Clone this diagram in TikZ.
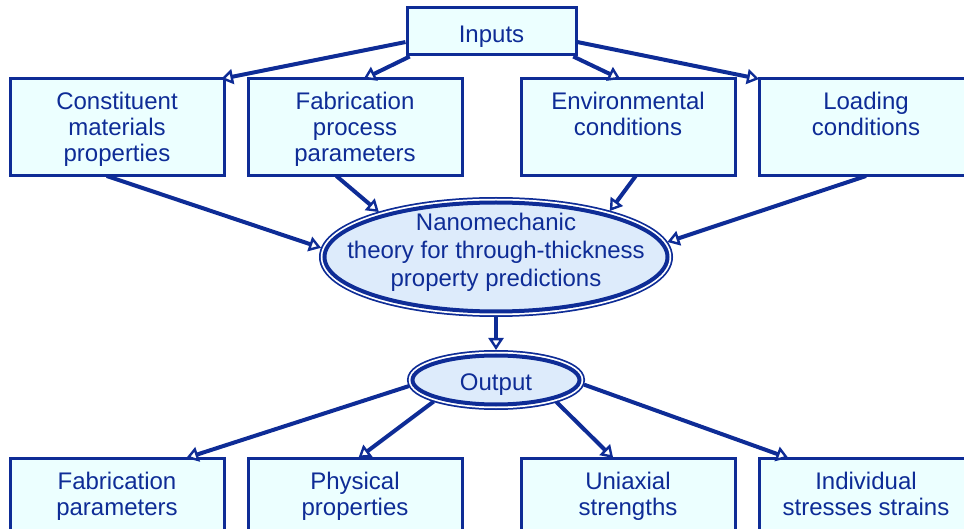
\documentclass[tikz,border=0pt]{standalone}
\usepackage{fontspec}
\setmainfont{Liberation Sans}
\usepackage{tikz}
\usetikzlibrary{positioning,arrows.meta,shapes.geometric}
\definecolor{navy}{RGB}{14,44,150}
\definecolor{boxfill}{RGB}{236,255,255}
\definecolor{ovalfill}{RGB}{221,235,251}
\newcommand{\boxtext}[1]{\parbox[t]{206pt}{\centering #1}}

\begin{document}
\begin{tikzpicture}[x=1pt,y=-1pt,font=\fontsize{24}{26}\selectfont,text=navy,
		box/.style={draw=navy,fill=boxfill,line width=3pt,minimum width=214pt,minimum height=97pt,inner sep=0pt,outer sep=0pt,text height=31pt,text depth=66pt},
		oval/.style={ellipse,draw=navy,fill=ovalfill,line width=4pt,inner sep=0pt,outer sep=5.5pt,preaction={draw=navy,line width=11pt},preaction={draw=white,line width=7.5pt}},
		link/.style={draw=navy,line width=4pt,-{Triangle[length=12pt,width=15pt,fill=white,line width=2.4pt]}}]
		\useasboundingbox (0,0) rectangle (964,529);
		
		\node[draw=navy,fill=boxfill,line width=3pt,minimum width=169pt,minimum height=47pt,text height=24pt,text depth=1pt] (inputs) at (491.5,31.5) {Inputs};
		
		\node[box] (cmp) at (117,127.5) {\boxtext{Constituent\\materials\\properties}};
		\node[box,right=24pt of cmp] (fpp) {\boxtext{Fabrication\\process\\parameters}};
		\node[box,right=59pt of fpp] (env) {\boxtext{Environmental\\conditions}};
		\node[box,right=24pt of env] (load) {\boxtext{Loading\\conditions}};
		
		\node[oval,minimum width=343pt,minimum height=109pt,label={[yshift=5pt,align=center,font=\fontsize{24}{28}\selectfont]center:{Nanomechanic\\theory for through-thickness\\property predictions}}] (theory) at (496,257) {};
		
		\node[oval,minimum width=167pt,minimum height=49pt,text height=20pt,text depth=0pt] (output) at (496,380) {Output};
		
		\node[box,below=282pt of cmp] (fab) {\boxtext{Fabrication\\parameters}};
		\node[box,below=282pt of fpp] (phys) {\boxtext{Physical\\properties}};
		\node[box,below=282pt of env] (uni) {\boxtext{Uniaxial\\strengths}};
		\node[box,below=282pt of load] (ind) {\boxtext{Individual\\stresses strains}};
		
		\draw[link] (inputs.187)--(cmp.25);
		\draw[link] (inputs.197)--(fpp.80);
		\draw[link] (inputs.343)--(env.99);
		\draw[link] (inputs.353)--(load.north west);
		
		\draw[link] (cmp.258)--(theory.177);
		\draw[link] (fpp.249)--(theory.159);
		\draw[link] (env.279)--(theory.22);
		\draw[link] (load.south)--(theory.5);
		
		\draw[link] (theory.south)--(output.north);
		
		\draw[link] (output.184)--(fab.35);
		\draw[link] (output.199)--(phys.86);
		\draw[link] (output.340)--(uni.107);
		\draw[link] (output.357)--(ind.148);
	\end{tikzpicture}
\end{document}
